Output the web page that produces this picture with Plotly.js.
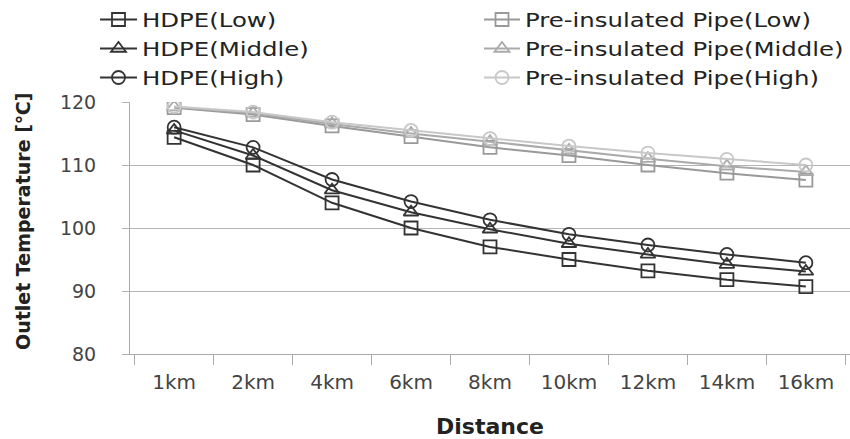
<!DOCTYPE html>
<html>
<head>
<meta charset="utf-8">
<script src="https://cdn.plot.ly/plotly-3.0.1.min.js"></script>
<style>
html,body{margin:0;padding:0;background:#fff;}
#chart{width:850px;height:439px;}
</style>
</head>
<body>
<div id="chart"></div>
<script>
const categories = ["1km","2km","4km","6km","8km","10km","12km","14km","16km"];
const hdpeLow    = [114.4, 110.0, 104.0, 100.0, 97.0, 95.0, 93.2, 91.8, 90.7];
const hdpeMiddle = [115.5, 111.5, 106.0, 102.5, 99.8, 97.5, 95.8, 94.2, 93.1];
const hdpeHigh   = [116.0, 112.8, 107.7, 104.2, 101.3, 99.0, 97.3, 95.8, 94.5];
const preLow     = [119.1, 118.0, 116.2, 114.5, 112.8, 111.5, 110.0, 108.7, 107.6];
const preMiddle  = [119.2, 118.2, 116.5, 115.0, 113.7, 112.3, 111.0, 109.8, 108.9];
const preHigh    = [119.3, 118.4, 116.8, 115.5, 114.2, 113.0, 111.9, 110.9, 110.0];
const seriesNames = ["HDPE(Low)","HDPE(Middle)","HDPE(High)","Pre-insulated Pipe(Low)","Pre-insulated Pipe(Middle)","Pre-insulated Pipe(High)"];
const yTitle = "Outlet Temperature [℃]";
const xTitle = "Distance";

const FONT = "'DejaVu Sans', sans-serif";
function tr(name, y, color, symbol, leg) {
  return {
    x: categories, y: y, name: name, type: 'scatter', mode: 'lines+markers', legend: leg,
    line: {color: color, width: 2},
    marker: {symbol: symbol, size: 13, color: color, line: {color: color, width: 1.8}}
  };
}
const data = [
  tr(seriesNames[0], hdpeLow, '#333333', 'square-open', 'legend'),
  tr(seriesNames[1], hdpeMiddle, '#333333', 'triangle-up-open', 'legend'),
  tr(seriesNames[2], hdpeHigh, '#333333', 'circle-open', 'legend'),
  tr(seriesNames[3], preLow, '#999999', 'square-open', 'legend2'),
  tr(seriesNames[4], preMiddle, '#aaaaaa', 'triangle-up-open', 'legend2'),
  tr(seriesNames[5], preHigh, '#c8c8c8', 'circle-open', 'legend2')
];
const legFont = {family: FONT, size: 20, color: '#222'};
const layout = {
  width: 850, height: 439,
  margin: {l: 130, r: 0, t: 102, b: 85, autoexpand: false},
  paper_bgcolor: '#fff', plot_bgcolor: '#fff',
  font: {family: FONT, color: '#333', size: 18},
  showlegend: true,
  legend: {
    orientation: 'v', x: 95/850, xref: 'container', xanchor: 'left', y: 1, yref: 'container', yanchor: 'top',
    traceorder: 'normal', font: legFont, itemwidth: 37, tracegroupgap: 0, bgcolor: 'rgba(0,0,0,0)'
  },
  legend2: {
    orientation: 'v', x: 479/850, xref: 'container', xanchor: 'left', y: 1, yref: 'container', yanchor: 'top',
    traceorder: 'normal', font: legFont, itemwidth: 36, tracegroupgap: 0, bgcolor: 'rgba(0,0,0,0)'
  },
  xaxis: {
    type: 'category', showgrid: false, showline: true, linecolor: '#aaa', linewidth: 1,
    ticks: 'outside', tickson: 'boundaries', ticklen: 10, tickcolor: '#aaa',
    ticklabelstandoff: 10,
    tickfont: {family: FONT, size: 20, color: '#444'},
    title: {text: xTitle, font: {family: FONT, size: 22, color: '#222', weight: 'bold'}, standoff: 28}
  },
  yaxis: {
    range: [80, 120], dtick: 10, showgrid: true, gridcolor: '#b4b4b4', gridwidth: 1,
    showline: true, linecolor: '#aaa', linewidth: 1, zeroline: false,
    ticks: 'outside', ticklen: 7, tickcolor: '#b4b4b4',
    ticklabelstandoff: 22,
    tickfont: {family: FONT, size: 19, color: '#444'}
  },
  annotations: [{
    text: yTitle, xref: 'paper', yref: 'paper', x: (23 - 130) / 720, y: (354 - 221) / 252,
    xanchor: 'center', yanchor: 'middle', textangle: -90, showarrow: false,
    font: {family: FONT, size: 19, color: '#222', weight: 'bold'}
  }]
};

function stretchLegendText() {
  const gd = document.getElementById('chart');
  gd.querySelectorAll('text').forEach(function (t) {
    if (seriesNames.indexOf(t.textContent) >= 0) {
      t.style.transformBox = 'fill-box';
      t.style.transformOrigin = '0% 50%';
      t.style.transform = 'scaleX(1.22)';
    }
  });
  gd.querySelectorAll('[clip-path]').forEach(function (el) {
    const cp = el.getAttribute('clip-path') || '';
    if (cp.indexOf('legend') >= 0) el.removeAttribute('clip-path');
  });
}

Plotly.newPlot('chart', data, layout, {displayModeBar: false, staticPlot: true}).then(function (gd) {
  stretchLegendText();
  gd.on('plotly_afterplot', stretchLegendText);
});
</script>
</body>
</html>
